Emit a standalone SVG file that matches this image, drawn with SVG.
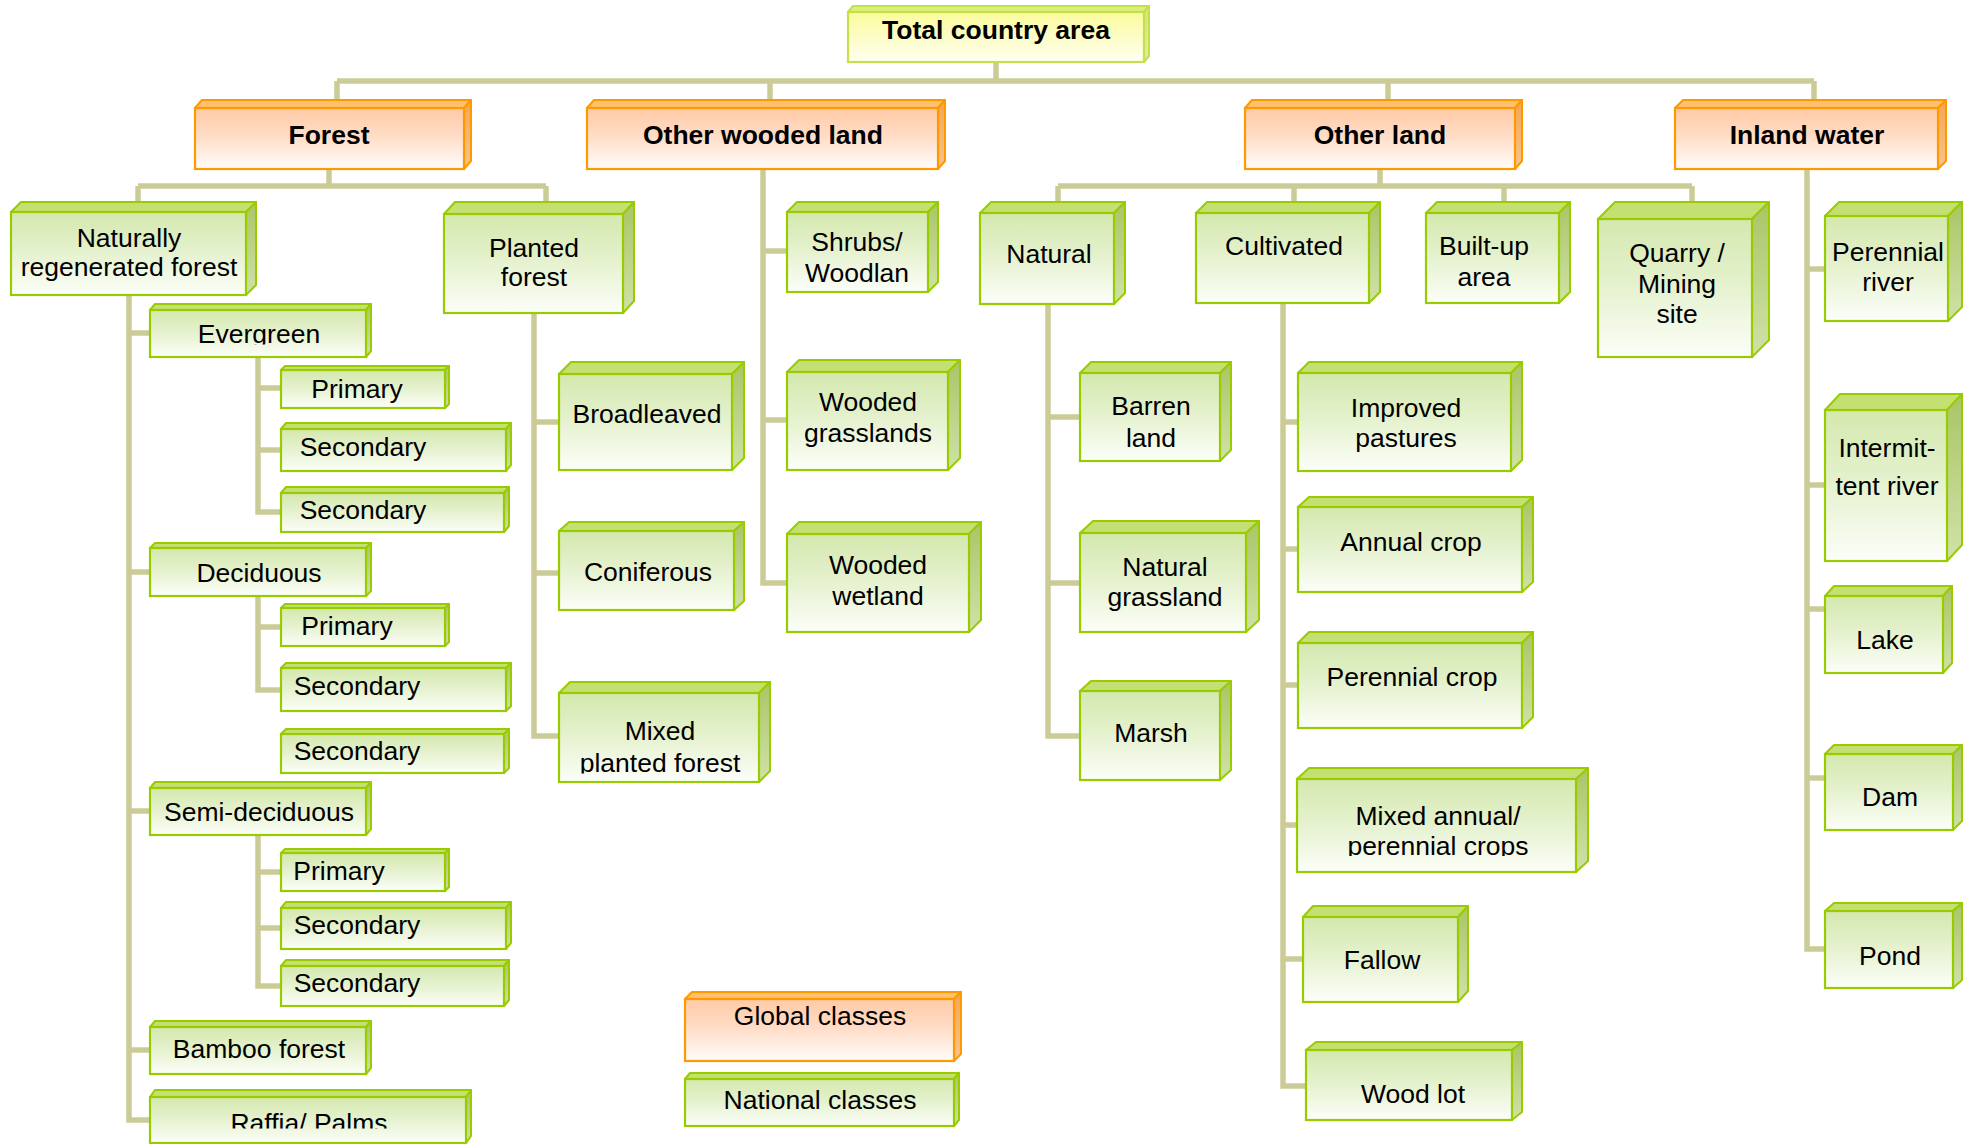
<svg xmlns="http://www.w3.org/2000/svg" width="1964" height="1144" viewBox="0 0 1964 1144">
<defs>
<linearGradient id="gFront" x1="0" y1="0" x2="0" y2="1"><stop offset="0" stop-color="#d4e8ae"/><stop offset="0.45" stop-color="#e4f1cc"/><stop offset="1" stop-color="#fcfef9"/></linearGradient>
<linearGradient id="gRight" x1="0" y1="0" x2="0" y2="1"><stop offset="0" stop-color="#aac566"/><stop offset="1" stop-color="#d0e2a8"/></linearGradient>
<linearGradient id="oFront" x1="0" y1="0" x2="0" y2="1"><stop offset="0" stop-color="#ffcaa4"/><stop offset="0.45" stop-color="#ffdcc6"/><stop offset="1" stop-color="#fffdfb"/></linearGradient>
<linearGradient id="oRight" x1="0" y1="0" x2="0" y2="1"><stop offset="0" stop-color="#f3a654"/><stop offset="1" stop-color="#f8c48c"/></linearGradient>
<linearGradient id="tFront" x1="0" y1="0" x2="0" y2="1"><stop offset="0" stop-color="#fbfb9c"/><stop offset="1" stop-color="#fffff2"/></linearGradient>
<linearGradient id="tRight" x1="0" y1="0" x2="0" y2="1"><stop offset="0" stop-color="#d2e47a"/><stop offset="1" stop-color="#e4ee9e"/></linearGradient>
<clipPath id="clipEver"><rect x="150" y="300" width="230" height="44.5"/></clipPath>
<clipPath id="clipMixP"><rect x="559" y="680" width="215" height="93.5"/></clipPath>
<clipPath id="clipMixA"><rect x="1297" y="760" width="290" height="96"/></clipPath>
<clipPath id="clipRaffia"><rect x="150" y="1090" width="330" height="38.5"/></clipPath>
</defs>
<style>
.gt{fill:#c4e072;stroke:#99cc00;stroke-width:2;stroke-linejoin:round}
.gr{fill:url(#gRight);stroke:#99cc00;stroke-width:2;stroke-linejoin:round}
.gf{fill:url(#gFront);stroke:#99cc00;stroke-width:2.2}
.ot{fill:#ffc070;stroke:#ff9900;stroke-width:2;stroke-linejoin:round}
.or{fill:url(#oRight);stroke:#ff9900;stroke-width:2;stroke-linejoin:round}
.of{fill:url(#oFront);stroke:#ff9900;stroke-width:2.2}
.tt{fill:#dcee7c;stroke:#c4e04a;stroke-width:2;stroke-linejoin:round}
.tr{fill:url(#tRight);stroke:#c4e04a;stroke-width:2;stroke-linejoin:round}
.tf{fill:url(#tFront);stroke:#c4e04a;stroke-width:2.2}
text{font-family:"Liberation Sans",Arial,sans-serif;font-size:26.5px;fill:#000;text-anchor:middle}
.b{font-weight:bold}
.con path{fill:none;stroke:#cbcb98;stroke-width:5.5}
</style>
<rect width="1964" height="1144" fill="#ffffff"/>

<g class="con" id="connectors">
<path d="M996,62V81M337,81H1814M337,81V100M770,81V100M1388,81V100M1814,81V100"/>
<path d="M329,169V186M138,186H546M138,186V202M546,186V202"/>
<path d="M763,169V583H787M763,251H787M763,420H787"/>
<path d="M1380,169V186M1058,186H1692M1058,186V202M1294,186V202M1504,186V202M1692,186V202"/>
<path d="M1807,169V949H1825M1807,269H1825M1807,485H1825M1807,609H1825M1807,778H1825"/>
<path d="M129,295V1120H150M129,333H150M129,572H150M129,811H150M129,1050H150"/>
<path d="M258,357V512H281M258,388H281M258,450H281"/>
<path d="M258,596V690H281M258,627H281"/>
<path d="M258,835V986H281M258,872H281M258,928H281"/>
<path d="M534,313V736H559M534,422H559M534,573H559"/>
<path d="M1048,304V736H1080M1048,417H1080M1048,583H1080"/>
<path d="M1283,303V1086H1306M1283,422H1298M1283,549H1298M1283,685H1298M1283,825H1297M1283,959H1303"/>
</g>

<g id="total">
<polygon class="tt" points="848,12 853,6 1149,6 1144,12"/><polygon class="tr" points="1144,12 1149,6 1149,56 1144,62"/><rect class="tf" x="848" y="12" width="296" height="50"/>
<text class="b" x="996" y="39">Total country area</text></g>

<g id="forest">
<polygon class="ot" points="195,108 202,100 471,100 464,108"/><polygon class="or" points="464,108 471,100 471,161 464,169"/><rect class="of" x="195" y="108" width="269" height="61"/>
<text class="b" x="329" y="144">Forest</text></g>

<g id="other-wooded-land">
<polygon class="ot" points="587,108 594,100 945,100 938,108"/><polygon class="or" points="938,108 945,100 945,161 938,169"/><rect class="of" x="587" y="108" width="351" height="61"/>
<text class="b" x="763" y="144">Other wooded land</text></g>

<g id="other-land">
<polygon class="ot" points="1245,108 1252,100 1522,100 1515,108"/><polygon class="or" points="1515,108 1522,100 1522,161 1515,169"/><rect class="of" x="1245" y="108" width="270" height="61"/>
<text class="b" x="1380" y="144">Other land</text></g>

<g id="inland-water">
<polygon class="ot" points="1675,108 1683,100 1946,100 1938,108"/><polygon class="or" points="1938,108 1946,100 1946,161 1938,169"/><rect class="of" x="1675" y="108" width="263" height="61"/>
<text class="b" x="1807" y="144">Inland water</text></g>

<g id="naturally-regenerated">
<polygon class="gt" points="11,212 21,202 256,202 246,212"/><polygon class="gr" points="246,212 256,202 256,285 246,295"/><rect class="gf" x="11" y="212" width="235" height="83"/>
<text x="129" y="247">Naturally</text><text x="129" y="276">regenerated forest</text></g>

<g id="planted-forest">
<polygon class="gt" points="444,214 455,202 634,202 623,214"/><polygon class="gr" points="623,214 634,202 634,301 623,313"/><rect class="gf" x="444" y="214" width="179" height="99"/>
<text x="534" y="257">Planted</text><text x="534" y="286">forest</text></g>

<g id="evergreen">
<polygon class="gt" points="150,310 155,304 371,304 366,310"/><polygon class="gr" points="366,310 371,304 371,351 366,357"/><rect class="gf" x="150" y="310" width="216" height="47"/>
<text x="259" y="343" clip-path="url(#clipEver)">Evergreen</text></g>

<g id="ev-primary">
<polygon class="gt" points="281,370 285,366 449,366 445,370"/><polygon class="gr" points="445,370 449,366 449,404 445,408"/><rect class="gf" x="281" y="370" width="164" height="38"/>
<text x="357" y="398">Primary</text></g>

<g id="ev-secondary-1">
<polygon class="gt" points="281,429 286,423 511,423 506,429"/><polygon class="gr" points="506,429 511,423 511,465 506,471"/><rect class="gf" x="281" y="429" width="225" height="42"/>
<text x="363" y="456">Secondary</text></g>

<g id="ev-secondary-2">
<polygon class="gt" points="281,493 286,487 509,487 504,493"/><polygon class="gr" points="504,493 509,487 509,526 504,532"/><rect class="gf" x="281" y="493" width="223" height="39"/>
<text x="363" y="519">Secondary</text></g>

<g id="deciduous">
<polygon class="gt" points="150,548 155,543 371,543 366,548"/><polygon class="gr" points="366,548 371,543 371,591 366,596"/><rect class="gf" x="150" y="548" width="216" height="48"/>
<text x="259" y="582">Deciduous</text></g>

<g id="dec-primary">
<polygon class="gt" points="281,608 285,604 449,604 445,608"/><polygon class="gr" points="445,608 449,604 449,642 445,646"/><rect class="gf" x="281" y="608" width="164" height="38"/>
<text x="347" y="635">Primary</text></g>

<g id="dec-secondary-1">
<polygon class="gt" points="281,668 286,663 511,663 506,668"/><polygon class="gr" points="506,668 511,663 511,706 506,711"/><rect class="gf" x="281" y="668" width="225" height="43"/>
<text x="357" y="695">Secondary</text></g>

<g id="dec-secondary-2">
<polygon class="gt" points="281,734 286,729 509,729 504,734"/><polygon class="gr" points="504,734 509,729 509,768 504,773"/><rect class="gf" x="281" y="734" width="223" height="39"/>
<text x="357" y="760">Secondary</text></g>

<g id="semi-deciduous">
<polygon class="gt" points="150,788 155,782 371,782 366,788"/><polygon class="gr" points="366,788 371,782 371,829 366,835"/><rect class="gf" x="150" y="788" width="216" height="47"/>
<text x="259" y="821">Semi-deciduous</text></g>

<g id="semi-primary">
<polygon class="gt" points="281,853 285,849 449,849 445,853"/><polygon class="gr" points="445,853 449,849 449,887 445,891"/><rect class="gf" x="281" y="853" width="164" height="38"/>
<text x="339" y="880">Primary</text></g>

<g id="semi-secondary-1">
<polygon class="gt" points="281,908 286,902 511,902 506,908"/><polygon class="gr" points="506,908 511,902 511,943 506,949"/><rect class="gf" x="281" y="908" width="225" height="41"/>
<text x="357" y="934">Secondary</text></g>

<g id="semi-secondary-2">
<polygon class="gt" points="281,966 286,960 509,960 504,966"/><polygon class="gr" points="504,966 509,960 509,1000 504,1006"/><rect class="gf" x="281" y="966" width="223" height="40"/>
<text x="357" y="992">Secondary</text></g>

<g id="bamboo-forest">
<polygon class="gt" points="150,1027 155,1021 371,1021 366,1027"/><polygon class="gr" points="366,1027 371,1021 371,1068 366,1074"/><rect class="gf" x="150" y="1027" width="216" height="47"/>
<text x="259" y="1058">Bamboo forest</text></g>

<g id="raffia-palms">
<polygon class="gt" points="150,1097 155,1090 471,1090 466,1097"/><polygon class="gr" points="466,1097 471,1090 471,1136 466,1143"/><rect class="gf" x="150" y="1097" width="316" height="46"/>
<text x="309" y="1132" clip-path="url(#clipRaffia)">Raffia/ Palms</text></g>

<g id="broadleaved">
<polygon class="gt" points="559,374 571,362 744,362 732,374"/><polygon class="gr" points="732,374 744,362 744,458 732,470"/><rect class="gf" x="559" y="374" width="173" height="96"/>
<text x="647" y="423">Broadleaved</text></g>

<g id="coniferous">
<polygon class="gt" points="559,531 569,522 744,522 734,531"/><polygon class="gr" points="734,531 744,522 744,601 734,610"/><rect class="gf" x="559" y="531" width="175" height="79"/>
<text x="648" y="581">Coniferous</text></g>

<g id="mixed-planted-forest">
<polygon class="gt" points="559,693 570,682 770,682 759,693"/><polygon class="gr" points="759,693 770,682 770,771 759,782"/><rect class="gf" x="559" y="693" width="200" height="89"/>
<g clip-path="url(#clipMixP)"><text x="660" y="740">Mixed</text><text x="660" y="772">planted forest</text></g></g>

<g id="shrubs-woodlan">
<polygon class="gt" points="787,212 797,202 938,202 928,212"/><polygon class="gr" points="928,212 938,202 938,282 928,292"/><rect class="gf" x="787" y="212" width="141" height="80"/>
<text x="857" y="251">Shrubs/</text><text x="857" y="282">Woodlan</text></g>

<g id="wooded-grasslands">
<polygon class="gt" points="787,372 799,360 960,360 948,372"/><polygon class="gr" points="948,372 960,360 960,458 948,470"/><rect class="gf" x="787" y="372" width="161" height="98"/>
<text x="868" y="411">Wooded</text><text x="868" y="442">grasslands</text></g>

<g id="wooded-wetland">
<polygon class="gt" points="787,534 799,522 981,522 969,534"/><polygon class="gr" points="969,534 981,522 981,620 969,632"/><rect class="gf" x="787" y="534" width="182" height="98"/>
<text x="878" y="574">Wooded</text><text x="878" y="605">wetland</text></g>

<g id="natural">
<polygon class="gt" points="980,213 991,202 1125,202 1114,213"/><polygon class="gr" points="1114,213 1125,202 1125,293 1114,304"/><rect class="gf" x="980" y="213" width="134" height="91"/>
<text x="1049" y="263">Natural</text></g>

<g id="cultivated">
<polygon class="gt" points="1196,213 1207,202 1380,202 1369,213"/><polygon class="gr" points="1369,213 1380,202 1380,292 1369,303"/><rect class="gf" x="1196" y="213" width="173" height="90"/>
<text x="1284" y="255">Cultivated</text></g>

<g id="built-up-area">
<polygon class="gt" points="1426,213 1437,202 1570,202 1559,213"/><polygon class="gr" points="1559,213 1570,202 1570,292 1559,303"/><rect class="gf" x="1426" y="213" width="133" height="90"/>
<text x="1484" y="255">Built-up</text><text x="1484" y="286">area</text></g>

<g id="quarry-mining-site">
<polygon class="gt" points="1598,219 1615,202 1769,202 1752,219"/><polygon class="gr" points="1752,219 1769,202 1769,340 1752,357"/><rect class="gf" x="1598" y="219" width="154" height="138"/>
<text x="1677" y="262">Quarry /</text><text x="1677" y="293">Mining</text><text x="1677" y="323">site</text></g>

<g id="barren-land">
<polygon class="gt" points="1080,373 1091,362 1231,362 1220,373"/><polygon class="gr" points="1220,373 1231,362 1231,450 1220,461"/><rect class="gf" x="1080" y="373" width="140" height="88"/>
<text x="1151" y="415">Barren</text><text x="1151" y="447">land</text></g>

<g id="natural-grassland">
<polygon class="gt" points="1080,533 1093,521 1259,521 1246,533"/><polygon class="gr" points="1246,533 1259,521 1259,620 1246,632"/><rect class="gf" x="1080" y="533" width="166" height="99"/>
<text x="1165" y="576">Natural</text><text x="1165" y="606">grassland</text></g>

<g id="marsh">
<polygon class="gt" points="1080,691 1091,681 1231,681 1220,691"/><polygon class="gr" points="1220,691 1231,681 1231,770 1220,780"/><rect class="gf" x="1080" y="691" width="140" height="89"/>
<text x="1151" y="742">Marsh</text></g>

<g id="improved-pastures">
<polygon class="gt" points="1298,373 1309,362 1522,362 1511,373"/><polygon class="gr" points="1511,373 1522,362 1522,460 1511,471"/><rect class="gf" x="1298" y="373" width="213" height="98"/>
<text x="1406" y="417">Improved</text><text x="1406" y="447">pastures</text></g>

<g id="annual-crop">
<polygon class="gt" points="1298,507 1309,497 1533,497 1522,507"/><polygon class="gr" points="1522,507 1533,497 1533,582 1522,592"/><rect class="gf" x="1298" y="507" width="224" height="85"/>
<text x="1411" y="551">Annual crop</text></g>

<g id="perennial-crop">
<polygon class="gt" points="1298,643 1309,632 1533,632 1522,643"/><polygon class="gr" points="1522,643 1533,632 1533,717 1522,728"/><rect class="gf" x="1298" y="643" width="224" height="85"/>
<text x="1412" y="686">Perennial crop</text></g>

<g id="mixed-annual-perennial">
<polygon class="gt" points="1297,779 1309,768 1588,768 1576,779"/><polygon class="gr" points="1576,779 1588,768 1588,861 1576,872"/><rect class="gf" x="1297" y="779" width="279" height="93"/>
<g clip-path="url(#clipMixA)"><text x="1438" y="825">Mixed annual/</text><text x="1438" y="855">perennial crops</text></g></g>

<g id="fallow">
<polygon class="gt" points="1303,917 1313,906 1468,906 1458,917"/><polygon class="gr" points="1458,917 1468,906 1468,991 1458,1002"/><rect class="gf" x="1303" y="917" width="155" height="85"/>
<text x="1382" y="969">Fallow</text></g>

<g id="wood-lot">
<polygon class="gt" points="1306,1050 1316,1042 1522,1042 1512,1050"/><polygon class="gr" points="1512,1050 1522,1042 1522,1112 1512,1120"/><rect class="gf" x="1306" y="1050" width="206" height="70"/>
<text x="1413" y="1103">Wood lot</text></g>

<g id="perennial-river">
<polygon class="gt" points="1825,216 1839,202 1962,202 1948,216"/><polygon class="gr" points="1948,216 1962,202 1962,307 1948,321"/><rect class="gf" x="1825" y="216" width="123" height="105"/>
<text x="1888" y="261">Perennial</text><text x="1888" y="291">river</text></g>

<g id="intermittent-river">
<polygon class="gt" points="1825,410 1840,394 1962,394 1947,410"/><polygon class="gr" points="1947,410 1962,394 1962,545 1947,561"/><rect class="gf" x="1825" y="410" width="122" height="151"/>
<text x="1887" y="457">Intermit-</text><text x="1887" y="495">tent river</text></g>

<g id="lake">
<polygon class="gt" points="1825,596 1834,586 1952,586 1943,596"/><polygon class="gr" points="1943,596 1952,586 1952,663 1943,673"/><rect class="gf" x="1825" y="596" width="118" height="77"/>
<text x="1885" y="649">Lake</text></g>

<g id="dam">
<polygon class="gt" points="1825,754 1834,745 1962,745 1953,754"/><polygon class="gr" points="1953,754 1962,745 1962,821 1953,830"/><rect class="gf" x="1825" y="754" width="128" height="76"/>
<text x="1890" y="806">Dam</text></g>

<g id="pond">
<polygon class="gt" points="1825,911 1834,903 1962,903 1953,911"/><polygon class="gr" points="1953,911 1962,903 1962,980 1953,988"/><rect class="gf" x="1825" y="911" width="128" height="77"/>
<text x="1890" y="965">Pond</text></g>

<g id="legend-global">
<polygon class="ot" points="685,999 692,992 961,992 954,999"/><polygon class="or" points="954,999 961,992 961,1054 954,1061"/><rect class="of" x="685" y="999" width="269" height="62"/>
<text x="820" y="1025">Global classes</text></g>

<g id="legend-national">
<polygon class="gt" points="685,1079 690,1073 959,1073 954,1079"/><polygon class="gr" points="954,1079 959,1073 959,1120 954,1126"/><rect class="gf" x="685" y="1079" width="269" height="47"/>
<text x="820" y="1109">National classes</text></g>
</svg>
